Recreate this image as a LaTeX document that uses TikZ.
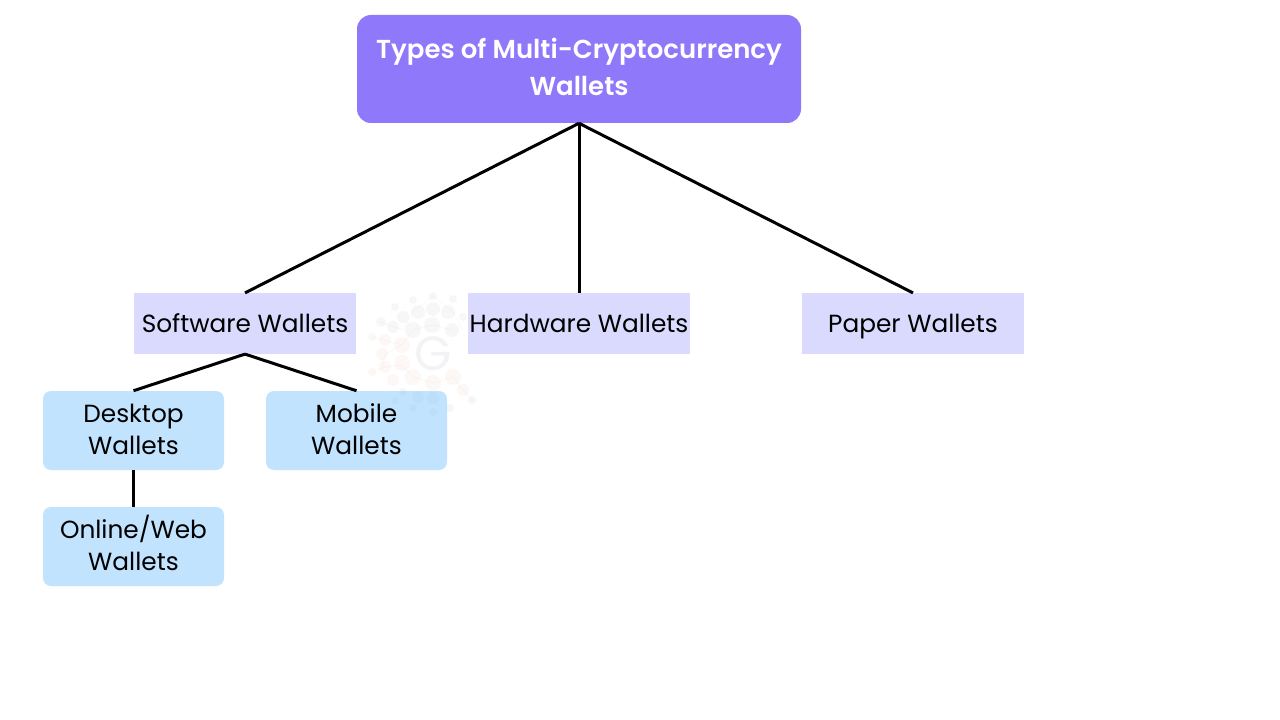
\documentclass[tikz,border=0pt]{standalone}
\usepackage{fontspec}
\setmainfont{Poppins}
\newfontfamily\semib{Poppins SemiBold}
\definecolor{topc}{HTML}{8F78F9}
\definecolor{midc}{HTML}{D9DAFD}
\definecolor{lowc}{HTML}{C1E3FE}
\definecolor{wmA}{HTML}{B9B9C8}
\definecolor{wmB}{HTML}{F0B8A8}
\definecolor{wmC}{HTML}{A0BCD8}
\tikzset{
 px/.style={x=0.75pt,y=-0.75pt},
 topbox/.style={fill=topc,rounded corners=10.5pt,text=white,minimum width=333pt,minimum height=81pt,text height=39.8pt,text depth=0pt,align=center,inner sep=0pt,font=\fontsize{19.5pt}{27.6pt}\selectfont\semib},
 midbox/.style={fill=midc,minimum width=166.5pt,minimum height=45.5pt,text height=13.6pt,text depth=0pt,inner sep=0pt,align=center,text=black,font=\fontsize{18.6pt}{24pt}\selectfont},
 lowbox/.style={fill=lowc,rounded corners=6pt,minimum width=135.75pt,minimum height=59.25pt,text height=35.5pt,text depth=0pt,inner sep=0pt,align=center,text=black,font=\fontsize{18.6pt}{24pt}\selectfont},
 link/.style={draw=black,line width=2.25pt},
 wmdot/.style={opacity=0.11},
 wmline/.style={draw=wmA,line width=0.4pt,opacity=0.10},
 wmglyph/.style={text=wmA,opacity=0.16,inner sep=0pt,font=\fontsize{36pt}{36pt}\selectfont},
}
\begin{document}
\begin{tikzpicture}[px]
\useasboundingbox (0,0) rectangle (1280,720);
\fill[white] (0,0) rectangle (1280,720);
\node[topbox] (top) at (579,69) {Types of Multi-Cryptocurrency\\Wallets};
\node[midbox] (soft) at (245,323.5) {Software Wallets};
\node[midbox] (hard) at (579,323.5) {Hardware Wallets};
\node[midbox] (paper) at (913,323.5) {Paper Wallets};
\node[lowbox] (desk) at (133.5,430.5) {Desktop\\Wallets};
\node[lowbox] (mob) at (356.5,430.5) {Mobile\\Wallets};
\node[lowbox] (web) at (133.5,546.5) {Online/Web\\Wallets};
\draw[link] (top.south) -- (soft.north);
\draw[link] (top.south) -- (hard.north);
\draw[link] (top.south) -- (paper.north);
\draw[link] (soft.south) -- (desk.north);
\draw[link] (soft.south) -- (mob.north);
\draw[link] (desk.south) -- (web.north);
% faint watermark
\foreach \a/\b/\c/\d in {433/296/413/312,433/296/453/312,413/312/403/330,453/312/463/330,403/330/381/322,433/325/413/330,433/325/453/330,413/330/402/345,402/345/372/337,402/345/385/354,385/354/382/367,402/365/385/367,402/365/413/377,413/377/433/383,433/383/453/377,453/377/463/390,463/390/472/400,385/367/372/372}
  \draw[wmline] (\a,\b) -- (\c,\d);
\foreach \x/\y/\r in {433/296/4,453/299/4,413/300/4,395/307/4,418/312/7,433/309/7,448/312/7,403/317/6,432/325/8,452/330/7,463/317/4,381/322/5,393/327/6,413/330/8}
  \fill[wmA,wmdot] (\x,\y) circle[radius=\r*0.75pt];
\foreach \x/\y/\r in {372/337/4,385/340/6,402/345/8,382/354/6,402/363/8,385/367/6,372/372/4,393/380/6,413/377/8,433/383/8,453/377/8,463/390/6}
  \fill[wmB,wmdot] (\x,\y) circle[radius=\r*0.75pt];
\foreach \x/\y/\r in {418/397/6,433/398/6,403/392/4,395/401/4,413/408/4,433/412/4,450/408/4,472/400/4}
  \fill[wmC,wmdot] (\x,\y) circle[radius=\r*0.75pt];
\node[wmglyph] (logo) at (433,354) {G};
\end{tikzpicture}
\end{document}
